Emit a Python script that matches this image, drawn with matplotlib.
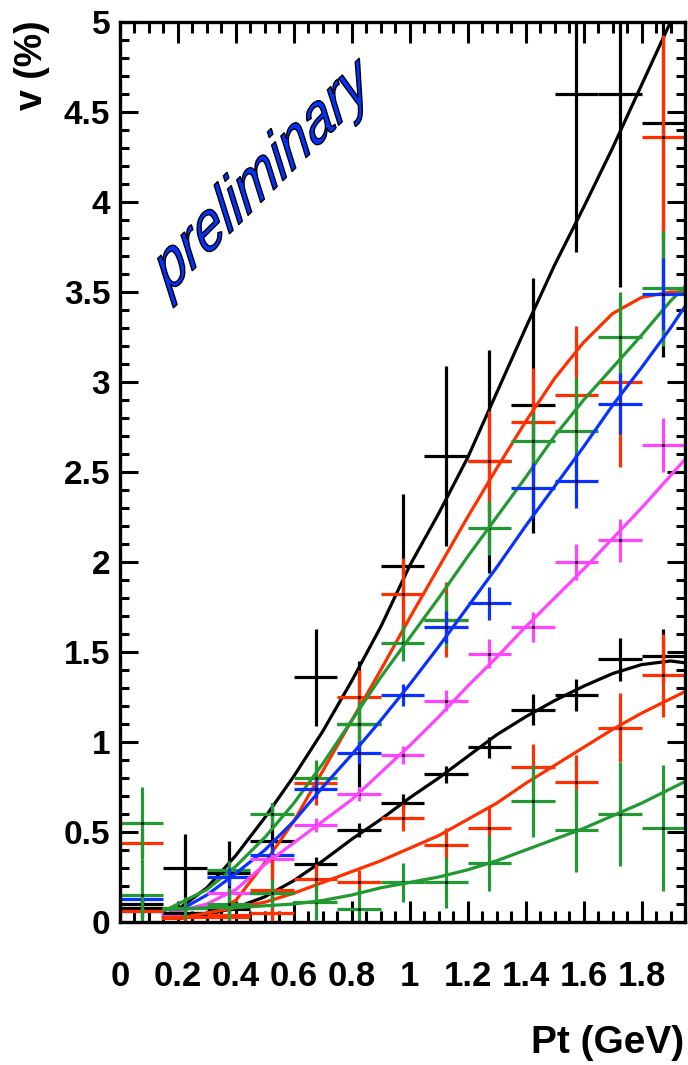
import matplotlib
matplotlib.use('Agg')
import matplotlib.pyplot as plt
from matplotlib.ticker import MultipleLocator, FormatStrFormatter
from matplotlib.textpath import TextPath
from matplotlib.patches import PathPatch
from matplotlib.font_manager import FontProperties
from matplotlib.transforms import Affine2D, IdentityTransform

plt.rcParams['font.family'] = 'Liberation Sans'
plt.rcParams['font.weight'] = 'bold'

# bin centres (Pt, GeV), bin half width 0.075
pt = [0.075, 0.225, 0.375, 0.525, 0.675, 0.825, 0.975, 1.125, 1.275, 1.425, 1.575, 1.725, 1.875]

# measured points, v (%) and errors
a_v = [0.08, 0.30, 0.27, 0.45, 1.36, 1.10, 1.98, 2.59, 2.56, 2.87, 4.60, 4.60, 4.44]
a_e = [0.05, 0.19, 0.18, 0.21, 0.27, 0.35, 0.40, 0.50, 0.62, 0.71, 0.88, 1.07, 1.30]
b_v = [0.44, 0.04, 0.03, 0.05, 0.77, 1.25, 1.82, 1.68, 2.56, 2.78, 2.93, 3.00, 4.36]
b_e = [0.08, 0.03, 0.04, 0.04, 0.12, 0.15, 0.20, 0.21, 0.28, 0.30, 0.38, 0.47, 0.57]
c_v = [0.55, 0.08, 0.29, 0.60, 0.80, 1.10, 1.55, 1.68, 2.19, 2.67, 2.73, 3.25, 3.52]
c_e = [0.20, 0.04, 0.05, 0.06, 0.10, 0.12, 0.10, 0.15, 0.15, 0.16, 0.30, 0.25, 0.32]
d_v = [0.13, 0.05, 0.25, 0.37, 0.74, 0.94, 1.26, 1.64, 1.77, 2.41, 2.45, 2.88, 3.49]
d_e = [0.03, 0.02, 0.05, 0.05, 0.05, 0.06, 0.06, 0.09, 0.09, 0.14, 0.15, 0.17, 0.20]
e_v = [0.06, 0.04, 0.16, 0.35, 0.54, 0.71, 0.93, 1.23, 1.49, 1.64, 2.00, 2.12, 2.65]
e_e = [0.02, 0.02, 0.03, 0.03, 0.04, 0.04, 0.05, 0.06, 0.08, 0.085, 0.10, 0.12, 0.15]
f_v = [0.10, 0.05, 0.07, 0.16, 0.32, 0.51, 0.66, 0.82, 0.97, 1.18, 1.26, 1.46, 1.48]
f_e = [0.03, 0.02, 0.02, 0.03, 0.04, 0.04, 0.05, 0.045, 0.06, 0.085, 0.09, 0.12, 0.15]
g_v = [0.06, 0.03, 0.04, 0.18, 0.24, 0.22, 0.58, 0.43, 0.52, 0.86, 0.78, 1.08, 1.37]
g_e = [0.03, 0.03, 0.03, 0.17, 0.08, 0.07, 0.075, 0.09, 0.12, 0.13, 0.15, 0.19, 0.23]
h_v = [0.15, 0.08, 0.10, 0.16, 0.11, 0.07, 0.22, 0.22, 0.33, 0.67, 0.51, 0.60, 0.52]
h_e = [0.20, 0.06, 0.09, 0.08, 0.10, 0.12, 0.11, 0.14, 0.155, 0.20, 0.23, 0.29, 0.35]

# fit curves
fx = [0.15, 0.2, 0.3, 0.4, 0.5, 0.6, 0.7, 0.8, 0.9, 1.0, 1.1, 1.2, 1.3, 1.4, 1.5, 1.6, 1.7, 1.8, 1.9, 1.95]
a_fit = [0.03, 0.07, 0.19, 0.37, 0.58, 0.81, 1.06, 1.34, 1.64, 1.98, 2.27, 2.58, 2.94, 3.30, 3.65, 3.97, 4.30, 4.65, 5.00, 5.20]
b_fit = [0.02, 0.02, 0.04, 0.12, 0.33, 0.56, 0.84, 1.12, 1.40, 1.69, 1.97, 2.25, 2.52, 2.78, 3.02, 3.22, 3.38, 3.47, 3.50, 3.50]
c_fit = [0.06, 0.10, 0.18, 0.31, 0.47, 0.66, 0.88, 1.12, 1.36, 1.58, 1.80, 2.03, 2.25, 2.47, 2.70, 2.90, 3.08, 3.26, 3.45, 3.53]
d_fit = [0.04, 0.06, 0.15, 0.27, 0.40, 0.56, 0.75, 0.93, 1.12, 1.32, 1.53, 1.75, 1.97, 2.20, 2.42, 2.64, 2.87, 3.08, 3.30, 3.42]
e_fit = [0.04, 0.06, 0.10, 0.18, 0.32, 0.44, 0.56, 0.68, 0.83, 0.98, 1.14, 1.31, 1.47, 1.64, 1.80, 1.96, 2.13, 2.30, 2.48, 2.57]
f_fit = [0.02, 0.02, 0.04, 0.08, 0.14, 0.23, 0.34, 0.46, 0.57, 0.69, 0.80, 0.92, 1.04, 1.14, 1.23, 1.31, 1.38, 1.43, 1.45, 1.44]
g_fit = [0.02, 0.02, 0.05, 0.08, 0.11, 0.16, 0.22, 0.28, 0.34, 0.41, 0.48, 0.57, 0.66, 0.77, 0.87, 0.97, 1.07, 1.16, 1.24, 1.28]
h_fit = [0.07, 0.07, 0.08, 0.08, 0.09, 0.10, 0.12, 0.15, 0.19, 0.22, 0.25, 0.29, 0.34, 0.40, 0.46, 0.52, 0.59, 0.66, 0.74, 0.78]

black = '#000000'
red = '#ff3000'
green = '#229933'
blue = '#0a32ff'
magenta = '#ff44ff'

series = [
    (a_v, a_e, a_fit, black),
    (b_v, b_e, b_fit, red),
    (c_v, c_e, c_fit, green),
    (d_v, d_e, d_fit, blue),
    (e_v, e_e, e_fit, magenta),
    (f_v, f_e, f_fit, black),
    (g_v, g_e, g_fit, red),
    (h_v, h_e, h_fit, green),
]

fig = plt.figure(figsize=(6.88, 10.65), dpi=100)
ax = fig.add_axes([120 / 688, 1 - 922 / 1065, 565 / 688, 900 / 1065])

for vals, errs, fit, col in series:
    ax.errorbar(pt, vals, yerr=errs, xerr=0.075, fmt='none', ecolor=col,
                elinewidth=2.3, capsize=0)
    ax.plot(pt, vals, ls='none', marker='s', ms=1, color='black')
    ax.plot(fx, fit, color=col, lw=2.3)

ax.set_xlim(0, 1.95)
ax.set_ylim(0, 5)

ax.xaxis.set_major_locator(MultipleLocator(0.2))
ax.xaxis.set_minor_locator(MultipleLocator(0.05))
ax.yaxis.set_major_locator(MultipleLocator(0.5))
ax.yaxis.set_minor_locator(MultipleLocator(0.1))
ax.xaxis.set_major_formatter(FormatStrFormatter('%g'))
ax.yaxis.set_major_formatter(FormatStrFormatter('%g'))

ax.tick_params(axis='x', which='both', direction='in', top=True, bottom=True,
               width=2.2, labelsize=25, pad=27)
ax.tick_params(axis='x', which='major', length=15)
ax.tick_params(axis='x', which='minor', length=8)
ax.tick_params(axis='y', which='both', direction='in', left=True, right=True,
               width=2.2, labelsize=24, pad=7)
ax.tick_params(axis='y', which='major', length=13)
ax.tick_params(axis='y', which='minor', length=6.5)
for s in ax.spines.values():
    s.set_linewidth(2.4)

fig.text(32 / 688, 1 - 20 / 1065, 'v (%)', rotation=90, ha='center', va='top',
         fontsize=27, fontweight='bold')
fig.text(684 / 688, 1 - 1043 / 1065, 'Pt (GeV)', ha='right', va='center',
         fontsize=28, fontweight='bold')

# "preliminary" stamp: rotated, stretched italic text, blue with black edge
tp = TextPath((0, 0), 'preliminary', size=51,
              prop=FontProperties(family='Liberation Sans', style='italic',
                                  weight='normal'))
path = Affine2D().rotate_deg(35).scale(1, 1.42).transform_path(tp)
ext = path.get_extents()
path = Affine2D().translate(260 - (ext.x0 + ext.x1) / 2,
                            (1065 - 183) - (ext.y0 + ext.y1) / 2).transform_path(path)
fig.add_artist(PathPatch(path, transform=IdentityTransform(),
                         facecolor='#0033ff', edgecolor='black', lw=1.0))

fig.savefig('out.png', dpi=100)
